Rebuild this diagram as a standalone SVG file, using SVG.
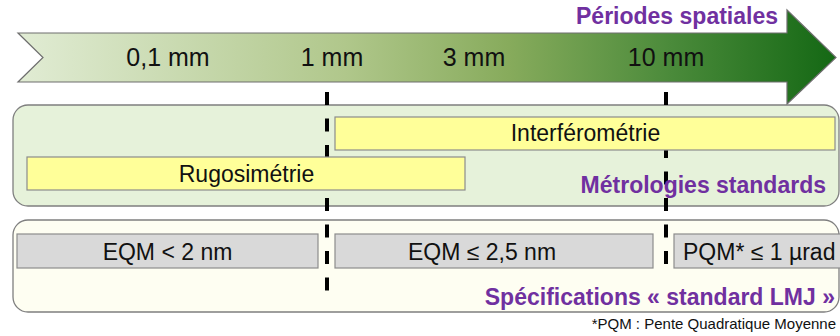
<svg xmlns="http://www.w3.org/2000/svg" width="840" height="336" viewBox="0 0 840 336">
<defs>
<linearGradient id="g" x1="18" y1="0" x2="836" y2="0" gradientUnits="userSpaceOnUse">
<stop offset="0" stop-color="#e1ecd4"/>
<stop offset="0.4" stop-color="#b0c78b"/>
<stop offset="0.6" stop-color="#87ab5c"/>
<stop offset="0.8" stop-color="#4a8a3a"/>
<stop offset="1" stop-color="#146814"/>
</linearGradient>
<style>
.t{font-family:"Liberation Sans",Arial,sans-serif;fill:#111;}
.s{font-size:25px;text-anchor:middle;}
.m{font-size:23px;text-anchor:middle;}
.p{font-family:"Liberation Sans",Arial,sans-serif;font-weight:bold;font-size:23px;fill:#7030a0;text-anchor:end;}
.panel{stroke:#7f7f7f;stroke-width:1.3;}
.y{fill:#ffff99;stroke:#8c8c8c;stroke-width:1.2;}
.gr{fill:#d9d9d9;stroke:#8c8c8c;stroke-width:1.2;}
.dash{stroke:#000;stroke-width:4;stroke-dasharray:13 13.5;fill:none;}
</style>
</defs>
<rect width="840" height="336" fill="#fff"/>
<g id="arrow">
<polygon points="18,33 787,33 787,10 836,57.5 787,104 787,82 18,82 43,57.5" fill="url(#g)" stroke="#6e6e6e" stroke-width="1.2"/>
<text class="t s" x="168" y="66">0,1 mm</text>
<text class="t s" x="332" y="66">1 mm</text>
<text class="t s" x="474" y="66">3 mm</text>
<text class="t s" x="666" y="66">10 mm</text>
<text class="p" x="778" y="24">Périodes spatiales</text>
</g>
<g id="metrologies-panel">
<rect class="panel" x="13" y="105" width="826" height="101" rx="15" fill="#e6f2da"/>
</g>
<g id="specifications-panel">
<rect class="panel" x="13" y="220" width="826" height="92" rx="15" fill="#fefef2"/>
</g>
<g id="connectors">
<line class="dash" x1="327" y1="92" x2="327" y2="291"/>
<line class="dash" x1="666" y1="92" x2="666" y2="271"/>
</g>
<g id="interferometrie">
<rect class="y" x="335" y="117" width="500" height="33"/>
<text class="t m" x="585.5" y="141">Interférométrie</text>
</g>
<g id="rugosimetrie">
<rect class="y" x="27" y="157" width="438" height="33"/>
<text class="t m" x="246.5" y="182">Rugosimétrie</text>
</g>
<g id="metrologies-label">
<text class="p" x="826" y="193">Métrologies standards</text>
</g>
<g id="eqm2">
<rect class="gr" x="17" y="234" width="301" height="34"/>
<text class="t m" x="167.5" y="260">EQM &lt; 2 nm</text>
</g>
<g id="eqm25">
<rect class="gr" x="335" y="234" width="318" height="34"/>
<text class="t m" x="482" y="260">EQM ≤ 2,5 nm</text>
</g>
<g id="pqm">
<rect class="gr" x="674" y="234" width="170" height="34"/>
<text class="t" x="683" y="260" font-size="23">PQM* ≤ 1 µrad</text>
</g>
<g id="specifications-label">
<text class="p" x="835" y="305">Spécifications « standard LMJ »</text>
</g>
<g id="footnote">
<text class="t" x="836" y="329" font-size="15" text-anchor="end" fill="#222">*PQM : Pente Quadratique Moyenne</text>
</g>
</svg>
